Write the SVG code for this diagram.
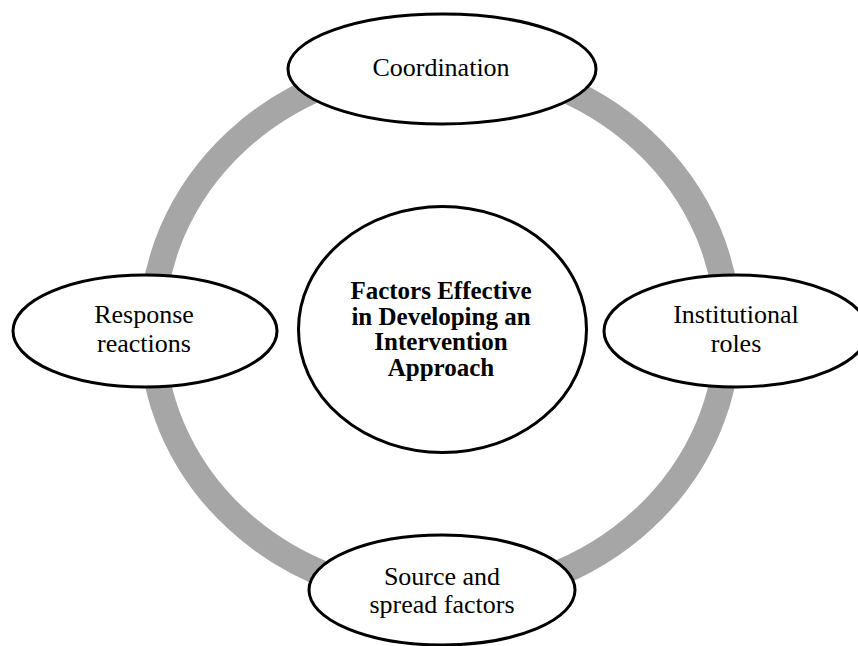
<svg xmlns="http://www.w3.org/2000/svg" width="858" height="646" viewBox="0 0 858 646">
<style>
.node{fill:#fff;stroke:#000;stroke-width:3}
.lbl{font-family:"Liberation Serif","Times New Roman",serif;font-size:26px;fill:#000;text-anchor:middle}
.ctr{font-family:"Liberation Serif","Times New Roman",serif;font-size:25px;font-weight:bold;fill:#000;text-anchor:middle}
</style>
<rect width="858" height="646" fill="#fff"/>
<g id="connectors">
<ellipse cx="440" cy="330" rx="288" ry="267" fill="none" stroke="#a6a6a6" stroke-width="26"/>
</g>
<g id="center">
<ellipse class="node" cx="442.5" cy="329.5" rx="144" ry="123"/>
<text class="ctr" x="441" y="299">Factors Effective</text>
<text class="ctr" x="441" y="325">in  Developing an</text>
<text class="ctr" x="441" y="350">Intervention</text>
<text class="ctr" x="441" y="376">Approach</text>
</g>
<g id="coordination">
<ellipse class="node" cx="442" cy="69" rx="154" ry="55"/>
<text class="lbl" x="441" y="76">Coordination</text>
</g>
<g id="response">
<ellipse class="node" cx="145" cy="331" rx="132" ry="56"/>
<text class="lbl" x="144" y="323">Response</text>
<text class="lbl" x="144" y="352">reactions</text>
</g>
<g id="institutional">
<ellipse class="node" cx="736" cy="331" rx="132" ry="56"/>
<text class="lbl" x="736" y="323">Institutional</text>
<text class="lbl" x="736" y="352">roles</text>
</g>
<g id="source">
<ellipse class="node" cx="442" cy="590" rx="133" ry="55"/>
<text class="lbl" x="442" y="585">Source and</text>
<text class="lbl" x="442" y="613">spread factors</text>
</g>
</svg>
